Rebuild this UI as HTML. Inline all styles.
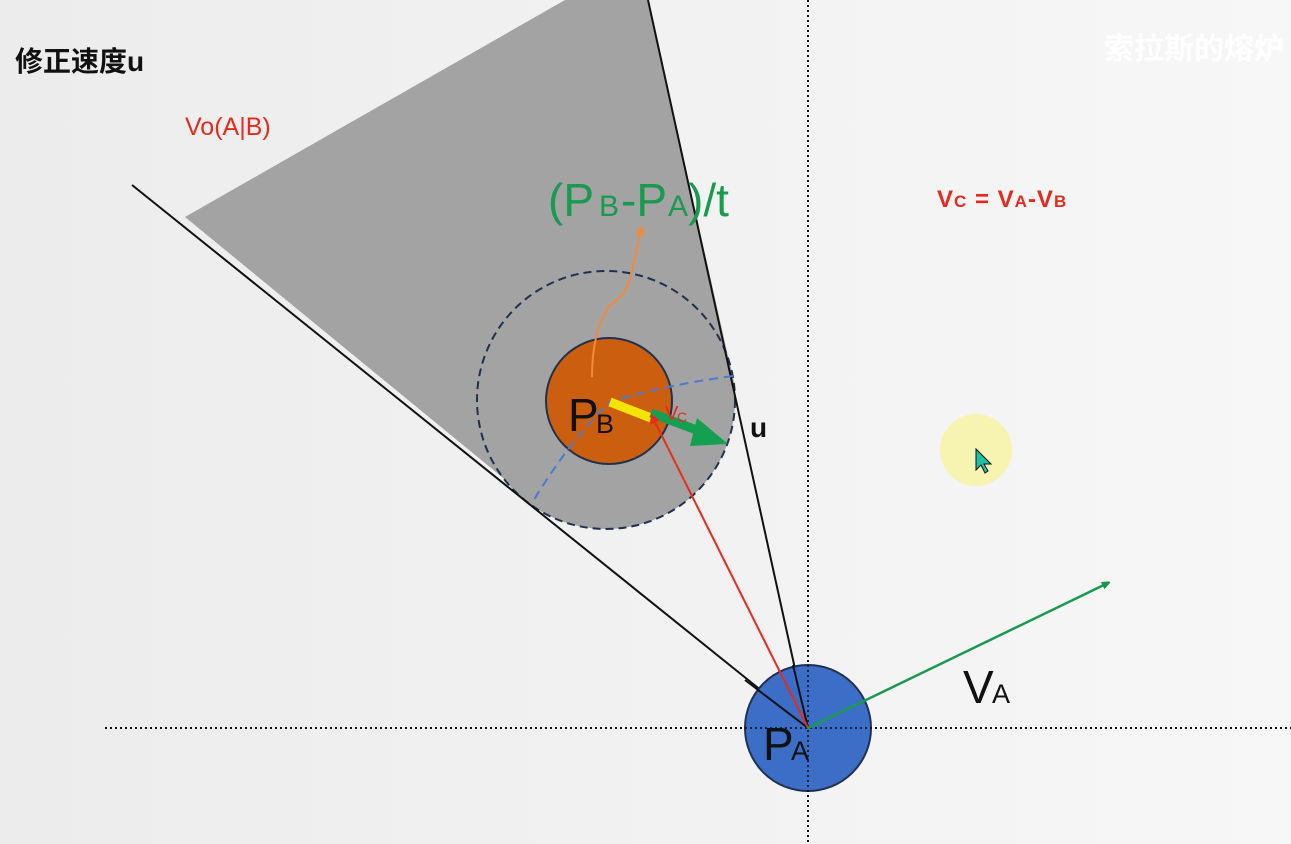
<!DOCTYPE html>
<html><head><meta charset="utf-8"><style>
html,body{margin:0;padding:0;width:1291px;height:844px;overflow:hidden;background:#f1f1f1}
svg{display:block}
text{font-family:"Liberation Sans","Noto Sans CJK SC",sans-serif}
</style></head><body>
<svg width="1291" height="844" viewBox="0 0 1291 844" xmlns="http://www.w3.org/2000/svg">
<defs>
<linearGradient id="bg" x1="0" y1="0" x2="1" y2="0"><stop offset="0" stop-color="#ececec"/><stop offset="1" stop-color="#f7f7f7"/></linearGradient>
<marker id="ga" markerWidth="8" markerHeight="8" refX="6" refY="4" orient="auto" markerUnits="userSpaceOnUse"><path d="M0,0 L10,4 L0,8z" fill="#1a9a50"/></marker>
<marker id="oa" markerWidth="10" markerHeight="10" refX="5" refY="5" orient="auto" markerUnits="userSpaceOnUse"><path d="M0,0 L10,5 L0,10z" fill="#f08a3c"/></marker>
<marker id="ra" markerWidth="10" markerHeight="10" refX="5" refY="5" orient="auto" markerUnits="userSpaceOnUse"><path d="M0,0 L10,5 L0,10z" fill="#e52b20"/></marker>
</defs>
<rect width="1291" height="844" fill="url(#bg)"/>
<polygon points="185,217 565,0 648,0 730,365 606,400 530,500" fill="#a3a3a3"/>
<circle cx="606" cy="400" r="129" fill="#a3a3a3"/>
<circle cx="606" cy="400" r="129" fill="none" stroke="#1f3050" stroke-width="2" stroke-dasharray="8,5"/>
<line x1="808" y1="0" x2="808" y2="844" stroke="#111" stroke-width="2" stroke-dasharray="2,3"/>
<line x1="105" y1="728" x2="1291" y2="728" stroke="#111" stroke-width="2" stroke-dasharray="2,3"/>
<line x1="132" y1="185" x2="808" y2="728" stroke="#111" stroke-width="2"/>
<line x1="648" y1="0" x2="808" y2="728" stroke="#111" stroke-width="2"/>
<circle cx="609" cy="401" r="63" fill="#cc5f0f" stroke="#1f3050" stroke-width="2"/>
<path d="M733,376 Q665,385 610,402 Q570,440 532,503" fill="none" stroke="#4a7bd0" stroke-width="2" stroke-dasharray="9,6"/>
<text x="568" y="431" font-size="46" fill="#111">P</text><text x="596" y="433" font-size="27" fill="#111">B</text>
<path d="M592,377 Q592,330 610,305 Q628,295 632,270 L641,230" fill="none" stroke="#f08a3c" stroke-width="2" marker-end="url(#oa)"/>
<line x1="610" y1="402" x2="651" y2="418" stroke="#f5e400" stroke-width="9"/>
<line x1="651" y1="413" x2="702" y2="432" stroke="#14a050" stroke-width="9"/>
<polygon points="697,418 728,444 690,446" fill="#14a050"/>
<line x1="808" y1="728" x2="653" y2="418" stroke="#e52b20" stroke-width="2" marker-end="url(#ra)"/>
<text x="665" y="420" font-size="20" fill="#e52b20">V</text><text x="677" y="422" font-size="14" fill="#e52b20">C</text>
<text x="750" y="437" font-size="28" font-weight="bold" fill="#111">u</text>
<circle cx="808" cy="728" r="63" fill="#3c6ec8" stroke="#1f3050" stroke-width="2"/>
<line x1="808" y1="0" x2="808" y2="844" stroke="#111" stroke-width="2" stroke-dasharray="2,3" opacity="0.8"/>
<line x1="105" y1="728" x2="1291" y2="728" stroke="#111" stroke-width="2" stroke-dasharray="2,3" opacity="0.8"/>
<line x1="745" y1="680" x2="808" y2="728" stroke="#111" stroke-width="2"/>
<line x1="793" y1="665" x2="808" y2="728" stroke="#111" stroke-width="2"/>
<line x1="779" y1="670" x2="808" y2="728" stroke="#e52b20" stroke-width="2"/>
<text x="763" y="760" font-size="46" fill="#111">P</text><text x="791" y="760" font-size="27" fill="#111">A</text>
<line x1="808" y1="728" x2="1108" y2="583" stroke="#1a9a50" stroke-width="2.5" marker-end="url(#ga)"/>
<text x="963" y="703" font-size="46" fill="#111">V</text><text x="992" y="703" font-size="27" fill="#111">A</text>
<text x="15" y="71" font-size="28" font-weight="bold" fill="#111">修正速度u</text>
<text x="185" y="135" font-size="25" fill="#e52b20">Vo(A|B)</text>
<text x="548" y="216" font-size="46" fill="#1a9a50">(P</text><text x="599" y="216" font-size="30" fill="#1a9a50">B</text><text x="621" y="216" font-size="46" fill="#1a9a50">-P</text><text x="668" y="216" font-size="30" fill="#1a9a50">A</text><text x="688" y="216" font-size="46" fill="#1a9a50">)/t</text>
<text x="937" y="207" font-size="24" font-weight="bold" fill="#e52b20" letter-spacing="1">V<tspan font-size="17">C</tspan> = V<tspan font-size="17">A</tspan>-V<tspan font-size="17">B</tspan></text>
<text x="1104" y="59" font-size="30" font-weight="bold" fill="#ffffff">索拉斯的熔炉</text>
<circle cx="976" cy="450" r="36" fill="#f7f3a8" opacity="0.9"/>
<path d="M976,449 L976,470 L981,465 L985,473 L988,471 L984,464 L991,464z" fill="#1fbfa8" stroke="#111" stroke-width="1"/>
</svg>
</body></html>
